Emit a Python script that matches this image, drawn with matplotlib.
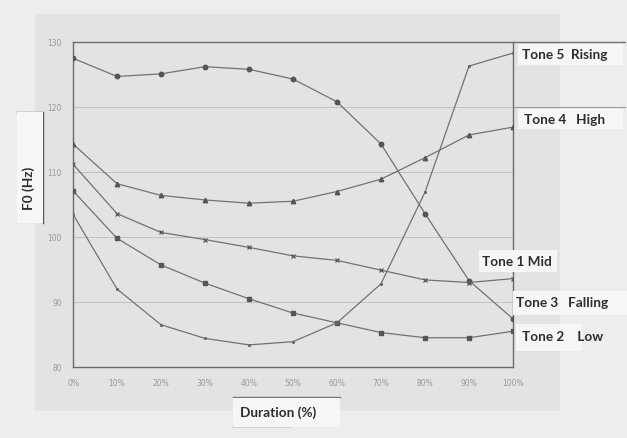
import matplotlib
matplotlib.use("Agg")
import matplotlib.pyplot as plt
from matplotlib.patches import Rectangle
from matplotlib.lines import Line2D

# duration points (%)
duration = [0, 10, 20, 30, 40, 50, 60, 70, 80, 90, 100]

# F0 values (Hz)
tone3_falling = [127.5, 124.7, 125.1, 126.2, 125.8, 124.3, 120.8, 114.3, 103.6, 93.3, 87.4]
tone4_high = [114.3, 108.2, 106.4, 105.7, 105.2, 105.5, 107.0, 108.9, 112.2, 115.7, 116.9]
tone1_mid = [111.2, 103.6, 100.7, 99.6, 98.4, 97.1, 96.4, 94.9, 93.4, 93.0, 93.6]
tone2_low = [107.1, 99.8, 95.7, 92.9, 90.5, 88.3, 86.8, 85.3, 84.5, 84.5, 85.5]
tone5_rising = [103.5, 92.0, 86.5, 84.4, 83.4, 83.9, 86.8, 92.8, 106.9, 126.3, 128.3]

y_ticks = [80, 90, 100, 110, 120, 130]
x_tick_labels = [f"{d}%" for d in duration]

W, H = 627, 439
fig = plt.figure(figsize=(W / 100, H / 100), dpi=100, facecolor="#ededed")

def fx(px):
    return px / W

def fy(py):
    return 1 - py / H

# grey chart area of the scan
fig.add_artist(Rectangle((fx(35), fy(412)), fx(560) - fx(35), fy(15) - fy(412),
                         transform=fig.transFigure, facecolor="#e3e3e3", edgecolor="none", zorder=0))

ax = fig.add_axes([fx(73), fy(368), fx(513) - fx(73), fy(43) - fy(368)])
ax.set_facecolor("#e3e3e3")

line_kw = dict(color="#727272", lw=0.9, zorder=3)
ax.plot(duration, tone3_falling, marker="o", ms=3.2, mfc="#555555", mec="#555555", **line_kw)
ax.plot(duration, tone4_high, marker="^", ms=3.2, mfc="#555555", mec="#555555", **line_kw)
ax.plot(duration, tone1_mid, marker="x", ms=3, mew=0.9, mec="#555555", **line_kw)
ax.plot(duration, tone2_low, marker="s", ms=3, mfc="#555555", mec="#555555", **line_kw)
ax.plot(duration, tone5_rising, marker=".", ms=2.5, mfc="#666666", mec="#666666", **line_kw)

ax.set_xlim(0, 100)
ax.set_ylim(80, 130)
ax.set_xticks(duration)
ax.set_xticklabels(x_tick_labels)
ax.set_yticks(y_ticks)
ax.tick_params(axis="both", length=0, labelsize=5.5, labelcolor="#999999", pad=8)
ax.grid(axis="y", color="#c2c2c2", lw=0.7)
ax.set_axisbelow(True)
for side in ["left", "bottom", "top", "right"]:
    ax.spines[side].set_color("#6a6a6a")
    ax.spines[side].set_linewidth(1.0)

# lines from the pasted label strips extending beyond the plot
fig.add_artist(Line2D([fx(513), fx(625)], [fy(43), fy(43)], transform=fig.transFigure, color="#707070", lw=1))
fig.add_artist(Line2D([fx(513), fx(625)], [fy(108), fy(108)], transform=fig.transFigure, color="#9a9a9a", lw=0.8))

label_kw = dict(fontsize=9.8, color="#2e2e2e", family=["Lato", "DejaVu Sans"], fontweight="bold",
                transform=fig.transFigure, va="center", zorder=5)

def strip(x0, y0, x1, y1):
    fig.add_artist(Rectangle((fx(x0), fy(y1)), fx(x1) - fx(x0), fy(y0) - fy(y1),
                             transform=fig.transFigure, facecolor="#f6f6f6", edgecolor="none", zorder=4))

strip(518, 45, 623, 66)
fig.text(fx(522), fy(55), "Tone 5  Rising", **label_kw)
strip(518, 110, 623, 130)
fig.text(fx(524), fy(120), "Tone 4   High", **label_kw)
strip(479, 251, 557, 273)
fig.text(fx(482), fy(262), "Tone 1 Mid", **label_kw)
strip(513, 292, 627, 316)
fig.text(fx(516), fy(303), "Tone 3   Falling", **label_kw)
strip(516, 325, 582, 352)
fig.text(fx(522), fy(337), "Tone 2    Low", **label_kw)

# y axis label with bracket
strip(17, 113, 43, 224)
fig.add_artist(Line2D([fx(17), fx(43), fx(43)], [fy(113), fy(113), fy(224)],
                      transform=fig.transFigure, color="#555555", lw=1))
fig.text(fx(29), fy(188), "F0 (Hz)", rotation=90, ha="center", **label_kw)

# x axis label
strip(233, 399, 340, 428)
fig.add_artist(Line2D([fx(233), fx(340)], [fy(398), fy(398)], transform=fig.transFigure, color="#777777", lw=1))
fig.add_artist(Line2D([fx(233), fx(290)], [fy(427), fy(427)], transform=fig.transFigure, color="#555555", lw=1))
fig.text(fx(240), fy(413), "Duration (%)", **label_kw)

fig.savefig("out.png", dpi=100, facecolor=fig.get_facecolor())
